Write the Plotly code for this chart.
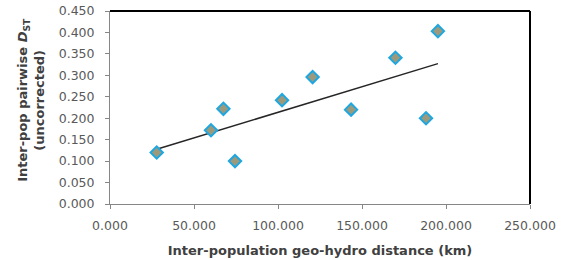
import numpy as np
import plotly.graph_objects as go

# Data
distance_km = [27.8, 60.1, 67.5, 74.4, 102.4, 120.6, 143.5, 169.9, 188.1, 195.2]
dst_uncorrected = [0.120, 0.172, 0.222, 0.100, 0.242, 0.296, 0.220, 0.341, 0.200, 0.403]
x_ticks = [0, 50, 100, 150, 200, 250]
y_ticks = [0.0, 0.05, 0.10, 0.15, 0.20, 0.25, 0.30, 0.35, 0.40, 0.45]

x = np.array(distance_km)
y = np.array(dst_uncorrected)
slope, intercept = np.polyfit(x, y, 1)
tx = np.array([x.min(), x.max()])
ty = slope * tx + intercept

FONT = "DejaVu Sans"
fig = go.Figure()
fig.add_trace(go.Scatter(
    x=tx, y=ty, mode="lines",
    line=dict(color="#262626", width=1.5),
    hoverinfo="skip", showlegend=False))
fig.add_trace(go.Scatter(
    x=distance_km, y=dst_uncorrected, mode="markers",
    marker=dict(symbol="diamond", size=9.5, color="#9c9a7c",
                line=dict(color="#1ea7e1", width=2)),
    showlegend=False))

fig.update_layout(
    width=567, height=260,
    margin=dict(l=110, r=37, t=11, b=56),
    paper_bgcolor="white", plot_bgcolor="white",
    font=dict(family=FONT, size=12.5, color="#595959"),
    xaxis=dict(range=[0, 250], tickvals=x_ticks,
               ticktext=[f"{v:.3f}" for v in x_ticks],
               automargin=False,
               showgrid=False, zeroline=False, showline=True,
               linecolor="#868686", linewidth=1,
               ticks="outside", ticklen=4, tickcolor="#868686",
               ticklabelstandoff=6,
               title=dict(text="<b>Inter-population geo-hydro distance (km)</b>",
                          font=dict(family=FONT, size=13, color="#404040"),
                          standoff=13)),
    yaxis=dict(range=[0, 0.45], tickvals=y_ticks,
               ticktext=[f"{v:.3f}" for v in y_ticks],
               automargin=False,
               showgrid=False, zeroline=False, showline=True,
               linecolor="#868686", linewidth=1,
               ticks="outside", ticklen=4, tickcolor="#868686",
               ticklabelstandoff=8),
    shapes=[
        dict(type="line", xref="paper", yref="paper", x0=0, x1=1, y0=1, y1=1,
             line=dict(color="black", width=2)),
        dict(type="line", xref="paper", yref="paper", x0=1, x1=1, y0=0, y1=1,
             line=dict(color="black", width=2)),
    ],
    annotations=[
        dict(text="<b>Inter-pop pairwise <i>D</i><sub>ST</sub></b><br><b>(uncorrected)</b>",
             xref="paper", yref="paper", x=-0.188, y=0.54,
             xanchor="center", yanchor="middle", textangle=-90, showarrow=False,
             font=dict(family=FONT, size=13, color="#404040")),
    ],
)

fig.write_html("out.html", config={"displayModeBar": False})
with open("out.html", encoding="utf-8") as f:
    html = f.read()
html = html.replace("<body>", '<body style="margin:0">', 1)
with open("out.html", "w", encoding="utf-8") as f:
    f.write(html)
